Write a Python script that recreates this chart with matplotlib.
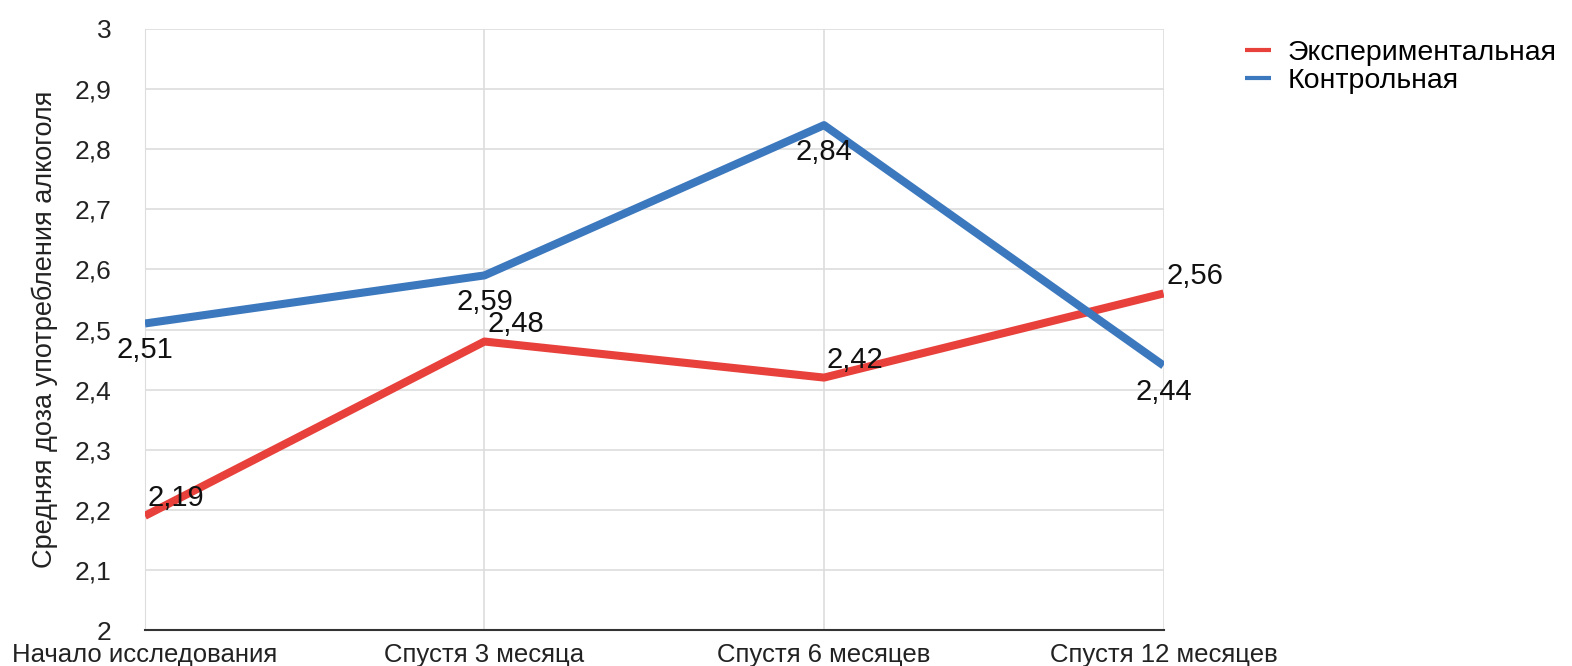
import matplotlib.pyplot as plt
from matplotlib.ticker import FuncFormatter

plt.rcParams['font.family'] = ['Liberation Sans', 'DejaVu Sans']

# данные
categories = ["Начало исследования", "Спустя 3 месяца", "Спустя 6 месяцев", "Спустя 12 месяцев"]
experimental = [2.19, 2.48, 2.42, 2.56]
control = [2.51, 2.59, 2.84, 2.44]
series_names = ["Экспериментальная", "Контрольная"]

red = "#E8403B"
blue = "#3C78BE"

fig = plt.figure(figsize=(15.72, 6.66), dpi=100)
ax = fig.add_axes([0.0922, 0.054, 0.648, 0.9025])

x = list(range(len(categories)))
ax.plot(x, experimental, color=red, lw=5.8, solid_capstyle="butt", label=series_names[0], zorder=3)
ax.plot(x, control, color=blue, lw=5.8, solid_capstyle="butt", label=series_names[1], zorder=3)

fmt = lambda v: ("%.2f" % v).replace(".", ",")
for xi, v in zip(x, experimental):
    ax.annotate(fmt(v), (xi, v), xytext=(2, 12.5), textcoords="offset points",
                ha="left", va="center", fontsize=21, color="#111111", zorder=4)
for xi, v in zip(x, control):
    ax.annotate(fmt(v), (xi, v), xytext=(0, -19), textcoords="offset points",
                ha="center", va="center", fontsize=21, color="#111111", zorder=4)

ax.set_xlim(0, 3)
ax.set_ylim(2, 3)
ax.set_xticks(x)
ax.set_xticklabels(categories, fontsize=18.5)
ax.set_yticks([2 + i / 10 for i in range(11)])
ax.yaxis.set_major_formatter(FuncFormatter(lambda v, p: ("%g" % round(v, 1)).replace(".", ",")))
ax.tick_params(axis="y", labelsize=19, length=0, pad=24, colors="#222222")
ax.tick_params(axis="x", length=0, pad=9, colors="#222222")

ax.grid(True, color="#dddddd", lw=1.2, zorder=0)
for s in ["top", "right"]:
    ax.spines[s].set_visible(False)
ax.spines["left"].set_color("#dddddd")
ax.spines["bottom"].set_color("#333333")
ax.spines["bottom"].set_linewidth(1.5)

ax.set_ylabel("Средняя доза употребления алкоголя", fontsize=19.5, color="#222222", labelpad=12)

leg = ax.legend(loc="upper left", bbox_to_anchor=(1.055, 1.025), frameon=False, fontsize=20.5,
                handlelength=0.9, handletextpad=0.6, labelspacing=0.08)
for line in leg.get_lines():
    line.set_linewidth(3)

fig.savefig("out.png", dpi=100)
